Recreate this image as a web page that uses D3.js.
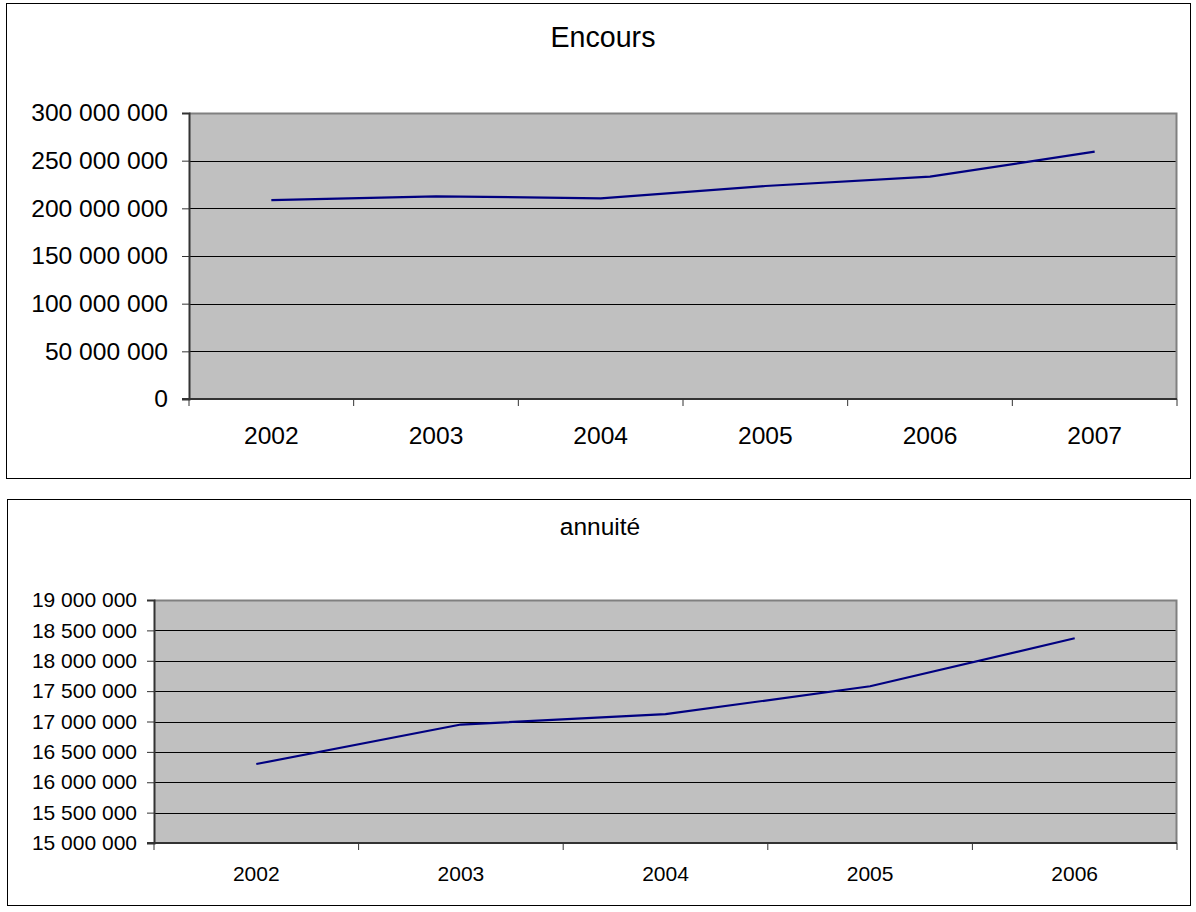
<!DOCTYPE html>
<html>
<head>
<meta charset="utf-8">
<script src="https://cdn.jsdelivr.net/npm/d3@7"></script>
<style>
  html, body { margin: 0; padding: 0; background: #fff; }
  svg { display: block; font-family: "Liberation Sans", Arial, sans-serif; }
</style>
</head>
<body>
<svg id="chart" width="1196" height="912"></svg>
<script>
// Encours (outstanding debt) by year
const encoursYears = ["2002", "2003", "2004", "2005", "2006", "2007"];
const encoursValues = [208700000, 212600000, 210500000, 223400000, 233200000, 259400000];
const encoursTicks = [0, 50000000, 100000000, 150000000, 200000000, 250000000, 300000000];

// Annuité (annual repayment) by year
const annuiteYears = ["2002", "2003", "2004", "2005", "2006"];
const annuiteValues = [16300000, 16950000, 17120000, 17580000, 18370000];
const annuiteTicks = [15000000, 15500000, 16000000, 16500000, 17000000, 17500000, 18000000, 18500000, 19000000];

const fr = d3.formatLocale({ decimal: ",", thousands: " ", grouping: [3], currency: ["", " €"] });
const fmt = fr.format(",d");

const svg = d3.select("#chart");

function drawChart(opt) {
  const g = svg.append("g");

  // chart frame
  g.append("rect")
    .attr("x", opt.box.x + 0.5).attr("y", opt.box.y + 0.5)
    .attr("width", opt.box.w).attr("height", opt.box.h)
    .attr("fill", "#fff").attr("stroke", "#000").attr("stroke-width", 1);

  const x = d3.scaleBand().domain(opt.categories).range([opt.plot.x0, opt.plot.x1]).padding(0);
  const y = d3.scaleLinear().domain(opt.domain).range([opt.plot.y1, opt.plot.y0]);

  // plot area
  g.append("rect")
    .attr("x", opt.plot.x0).attr("y", opt.plot.y0)
    .attr("width", opt.plot.x1 - opt.plot.x0).attr("height", opt.plot.y1 - opt.plot.y0)
    .attr("fill", "#c0c0c0");

  // horizontal gridlines
  g.append("g").selectAll("line")
    .data(opt.ticks.filter(t => t !== opt.domain[0] && t !== opt.domain[1]))
    .join("line")
    .attr("x1", opt.plot.x0).attr("x2", opt.plot.x1)
    .attr("y1", d => Math.round(y(d)) + 0.5).attr("y2", d => Math.round(y(d)) + 0.5)
    .attr("stroke", "#000").attr("stroke-width", 1);

  // plot border (top and right)
  g.append("path")
    .attr("d", `M${opt.plot.x0},${opt.plot.y0 + 0.5}H${opt.plot.x1 - 0.5}V${opt.plot.y1}`)
    .attr("fill", "none").attr("stroke", "#808080").attr("stroke-width", 2);

  // y axis
  const yAxis = d3.axisLeft(y).tickValues(opt.ticks).tickFormat(fmt).tickSize(7).tickPadding(opt.yPad);
  const ya = g.append("g").attr("transform", `translate(${opt.plot.x0},0)`).call(yAxis);
  ya.select(".domain").attr("stroke", "#333").attr("stroke-width", 2);
  ya.selectAll(".tick line").attr("stroke", "#333");
  ya.selectAll("text").attr("font-size", opt.tickSize).attr("fill", "#000")
    .attr("font-family", "Liberation Sans, Arial, sans-serif");

  // x axis: ticks at category boundaries, labels centered in each band
  const xa = g.append("g").attr("transform", `translate(0,${opt.plot.y1})`);
  xa.append("line")
    .attr("x1", opt.plot.x0 - 7).attr("x2", opt.plot.x1)
    .attr("y1", 0).attr("y2", 0).attr("stroke", "#333").attr("stroke-width", 2);
  const bounds = opt.categories.map(c => x(c)).concat([opt.plot.x1]);
  xa.selectAll("line.tk").data(bounds).join("line").attr("class", "tk")
    .attr("x1", d => d).attr("x2", d => d).attr("y1", 0).attr("y2", 7)
    .attr("stroke", "#333");
  xa.selectAll("text").data(opt.categories).join("text")
    .attr("x", d => x(d) + x.bandwidth() / 2)
    .attr("y", opt.xLabelDy)
    .attr("text-anchor", "middle")
    .attr("font-size", opt.tickSize)
    .text(d => d);

  // series line
  const line = d3.line()
    .x((d, i) => x(opt.categories[i]) + x.bandwidth() / 2)
    .y(d => y(d));
  g.append("path").datum(opt.values)
    .attr("d", line)
    .attr("fill", "none").attr("stroke", "#000080").attr("stroke-width", 2.2)
    .attr("stroke-linejoin", "round");

  // title
  g.append("text")
    .attr("x", opt.titleX).attr("y", opt.titleY)
    .attr("text-anchor", "middle")
    .attr("font-size", opt.titleSize)
    .text(opt.title);
}

drawChart({
  title: "Encours",
  categories: encoursYears,
  values: encoursValues,
  ticks: encoursTicks,
  domain: [0, 300000000],
  box: { x: 6, y: 3, w: 1184, h: 475 },
  plot: { x0: 189, x1: 1177, y0: 113, y1: 399 },
  tickSize: 24.6,
  titleSize: 28.6,
  titleX: 603,
  titleY: 47,
  yPad: 14,
  xLabelDy: 45
});

drawChart({
  title: "annuité",
  categories: annuiteYears,
  values: annuiteValues,
  ticks: annuiteTicks,
  domain: [15000000, 19000000],
  box: { x: 7, y: 499, w: 1183, h: 406 },
  plot: { x0: 154, x1: 1177, y0: 600, y1: 843 },
  tickSize: 21,
  titleSize: 24.5,
  titleX: 600,
  titleY: 535,
  yPad: 10,
  xLabelDy: 38
});
</script>
</body>
</html>
